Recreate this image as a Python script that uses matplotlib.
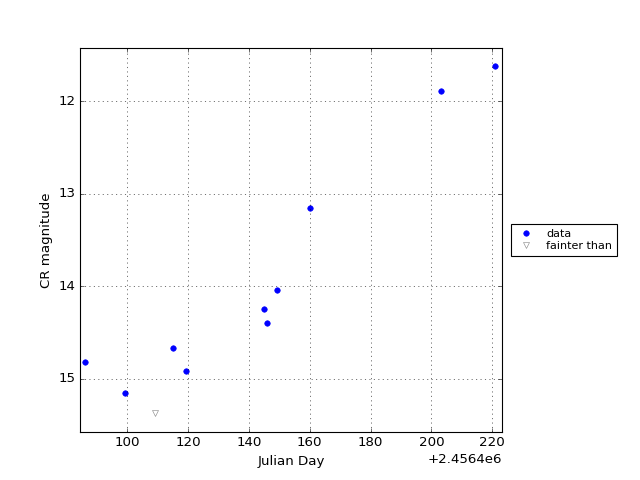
import numpy as np
import matplotlib
matplotlib.use("Agg")
import matplotlib.pyplot as plt

plt.style.use("classic")

jd_offset = 2456400
# detections
jd = [86.3, 99.2, 115.2, 119.2, 145.1, 146.1, 149.1, 160.0, 203.0, 220.9]
mag = [14.82, 15.15, 14.67, 14.91, 14.25, 14.40, 14.04, 13.16, 11.89, 11.62]
# upper limits
jd_lim = [109.3]
mag_lim = [15.37]

jd_all = np.array(jd) + jd_offset
jd_lim_all = np.array(jd_lim) + jd_offset

fig = plt.figure(figsize=(8, 6), dpi=80)
ax = fig.add_subplot(111)
fig.subplots_adjust(left=0.125, right=0.785, bottom=0.1, top=0.9)

ax.plot(jd_all, mag, "o", color="b", markeredgecolor="b", markersize=5, label="data")
ax.plot(jd_lim_all, mag_lim, "v", markerfacecolor="none", markeredgecolor="gray",
        markersize=5, label="fainter than")

ax.set_xlim(jd_offset + 84.53, jd_offset + 223.3)
ax.set_ylim(15.572, 11.428)
ax.set_yticks([12, 13, 14, 15])
ax.ticklabel_format(axis="x", useOffset=jd_offset)
ax.grid(True)
ax.set_xlabel("Julian Day")
ax.set_ylabel("CR magnitude")

ax.legend(loc="center left", bbox_to_anchor=(1.02, 0.5), numpoints=1,
          prop={"size": 10}, fancybox=False, borderaxespad=0, labelspacing=0.2)

fig.savefig("out.png", dpi=80)
